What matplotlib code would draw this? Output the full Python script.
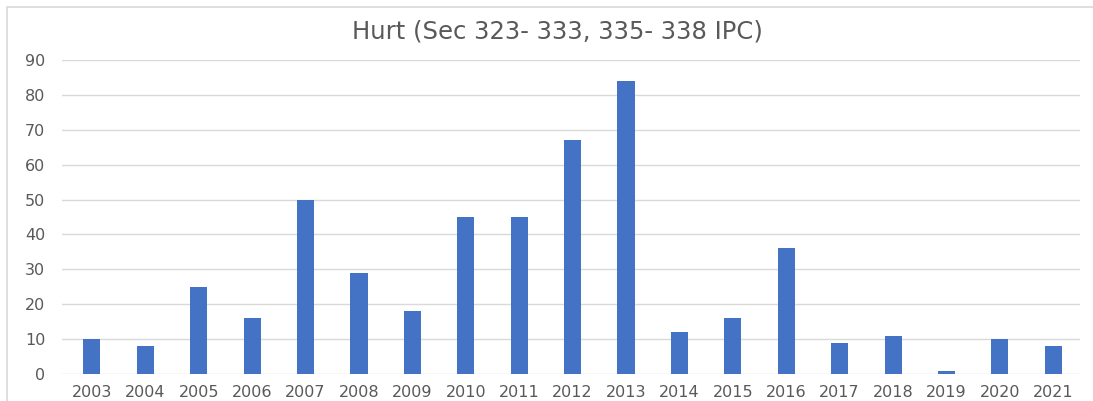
import matplotlib
matplotlib.use("Agg")
import matplotlib.pyplot as plt
from matplotlib.patches import Rectangle

years = ["2003", "2004", "2005", "2006", "2007", "2008", "2009", "2010", "2011", "2012",
         "2013", "2014", "2015", "2016", "2017", "2018", "2019", "2020", "2021"]
cases = [10, 8, 25, 16, 50, 29, 18, 45, 45, 67, 84, 12, 16, 36, 9, 11, 1, 10, 8]
yticks = [0, 10, 20, 30, 40, 50, 60, 70, 80, 90]
title = "Hurt (Sec 323- 333, 335- 338 IPC)"

plt.rcParams["font.family"] = ["DejaVu Sans"]
W, H = 1093, 401
fig = plt.figure(figsize=(W / 100, H / 100), dpi=100)

# chart frame
fig.patches.append(Rectangle((7 / W, -0.1), 1.2, (H - 7) / H + 0.1,
                             transform=fig.transFigure, fill=False,
                             edgecolor="#d9d9d9", linewidth=1.2))

ax = fig.add_axes([62 / W, 1 - 374 / H, (1080 - 62) / W, (374 - 60) / H])
x = list(range(len(years)))
ax.bar(x, cases, width=0.32, color="#4472C4", zorder=3)
ax.set_xlim(-0.56, len(years) - 0.5)
ax.set_ylim(0, 90)
ax.set_yticks(yticks)
ax.set_xticks(x)
ax.set_xticklabels(years)
ax.grid(axis="y", color="#d9d9d9", linewidth=1, zorder=0)
for s in ax.spines.values():
    s.set_visible(False)
ax.tick_params(length=0, colors="#595959", labelsize=11.5)
ax.tick_params(axis="y", pad=12)
ax.tick_params(axis="x", pad=8)

fig.text(557 / W, 1 - 32 / H, title, ha="center", va="center",
         fontsize=17.5, color="#595959")

fig.savefig("out.png", dpi=100)
